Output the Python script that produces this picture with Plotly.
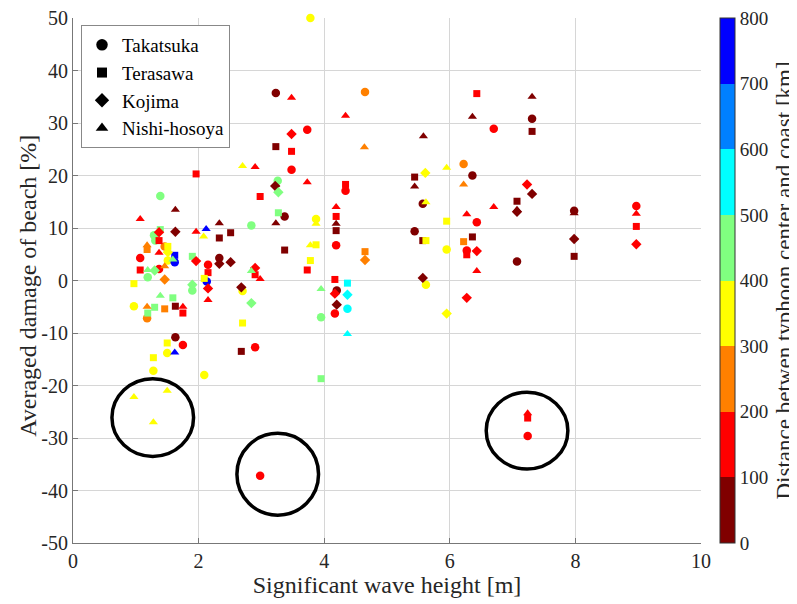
import plotly.graph_objects as go

# ---------------- data ----------------
# Takatsuka (circles)
taka_x = [1.96, 1.39, 1.29, 1.31, 1.46, 1.51, 1.62, 1.07, 1.19, 1.37, 0.97, 1.18, 1.63, 1.75, 1.50, 1.28, 2.09,
          2.98, 7.24, 3.78, 3.23, 4.65, 3.73, 3.48, 3.26, 4.34, 3.37, 2.84, 3.87, 4.19, 2.33, 2.15, 2.13, 1.90,
          2.70, 2.90, 3.95, 4.20, 4.17, 4.37, 5.95, 5.44, 5.57, 5.62, 7.31, 6.70, 6.22, 6.36, 6.43, 6.27, 7.07,
          7.98, 8.97]
taka_y = [27.2, 16.1, 8.6, 7.6, 6.5, 3.8, 3.5, 4.3, 0.6, 2.2, -4.9, -7.2, -10.8, -12.3, -13.8, -17.2, -18.0,
          -37.2, -29.6, 50.0, 35.7, 35.9, 28.7, 21.1, 19.0, 17.1, 12.2, 10.5, 11.7, 6.7, 4.3, 3.0, -0.2, -1.9,
          -2.0, -12.7, -7.0, -1.9, -6.3, -5.4, 5.9, 9.4, 14.6, -0.8, 30.8, 28.9, 22.2, 20.0, 11.1, 5.7, 3.6,
          13.3, 14.2]
taka_d = [150, 450, 450, 450, 250, 350, 750, 150, 450, 150, 350, 250, 50, 150, 350, 350, 350,
          150, 150, 350, 50, 250, 150, 150, 450, 150, 50, 450, 350, 150, 50, 150, 750, 450,
          350, 150, 450, 50, 150, 550, 350, 50, 50, 350, 50, 150, 250, 50, 150, 150, 50,
          50, 150]

# Terasawa (squares)
tera_x = [2.12, 1.96, 1.39, 2.33, 2.51, 1.37, 1.18, 1.51, 1.62, 1.07, 1.90, 2.15, 2.09, 0.97, 1.59, 1.30, 1.46,
          1.63, 1.75, 1.19, 2.70, 1.50, 1.28, 2.68, 3.95, 7.24, 3.23, 3.48, 4.34, 2.98, 3.27, 4.19, 4.19, 3.87,
          3.37, 3.78, 3.73, 4.65, 2.90, 4.17, 4.37, 5.44, 5.95, 5.57, 5.62, 6.43, 7.31, 7.07, 6.36, 6.22, 6.27,
          7.98, 8.97]
tera_y = [27.2, 20.3, 9.7, 8.1, 9.1, 7.6, 5.9, 6.5, 4.8, 2.0, 4.6, 1.5, 0.4, -0.6, -3.3, -5.1, -5.4,
          -4.9, -6.2, -6.2, -8.1, -11.9, -14.7, -13.5, -18.7, -26.2, 25.5, 24.6, 18.3, 16.0, 12.9, 12.2, 9.5, 6.8,
          5.8, 3.8, 2.0, 5.5, 1.1, 0.2, -0.5, 19.7, 11.3, 7.6, 7.6, 35.6, 28.4, 15.1, 8.3, 7.4, 4.9,
          4.6, 10.3]
tera_d = [750, 150, 450, 50, 50, 150, 250, 350, 750, 150, 450, 150, 350, 350, 450, 450, 250,
          50, 150, 450, 350, 350, 350, 50, 450, 150, 50, 150, 150, 150, 450, 150, 50, 350,
          50, 350, 150, 250, 150, 150, 550, 50, 350, 50, 350, 150, 50, 50, 50, 250, 150,
          50, 150]

# Kojima (diamonds)
koji_x = [1.37, 1.63, 1.51, 1.30, 1.46, 1.96, 2.33, 2.51, 2.15, 1.90, 2.68, 2.84, 2.90, 3.48, 3.22, 3.27, 4.65,
          4.17, 4.20, 4.37, 5.61, 5.57, 5.95, 7.23, 7.31, 7.07, 6.43, 6.27, 7.98, 8.97]
koji_y = [9.2, 9.3, 5.4, 1.9, 0.2, 3.7, 3.2, 3.5, -1.5, -0.8, -1.3, -4.3, 2.4, 27.9, 18.0, 16.8, 3.9,
          -2.5, -4.6, -2.7, 20.5, 0.5, -6.3, 18.3, 16.5, 13.1, 5.6, -3.3, 7.9, 6.9]
koji_d = [150, 50, 350, 450, 250, 150, 50, 50, 150, 450, 50, 450, 150, 150, 50, 450, 250,
          150, 50, 550, 350, 50, 350, 150, 50, 50, 150, 150, 50, 150]

# Nishi-hosoya (triangles)
nishi_x = [1.19, 2.70, 1.63, 1.07, 1.96, 2.12, 2.08, 2.33, 1.18, 1.37, 1.59, 1.46, 1.19, 2.15, 1.39, 1.18, 1.75,
           1.62, 0.97, 1.50, 1.28, 7.24, 3.48, 4.34, 4.64, 2.90, 3.73, 4.19, 3.23, 4.19, 3.87, 3.78, 2.84, 2.98,
           3.95, 4.37, 5.58, 5.95, 5.44, 5.62, 7.31, 6.36, 6.22, 6.70, 6.27, 7.07, 6.43, 7.98, 8.97]
nishi_y = [27.8, 21.8, 13.5, 11.7, 9.3, 9.8, 8.4, 10.9, 6.7, 5.3, 4.0, 2.7, 2.0, -3.7, -2.9, -5.0, -5.0,
           -13.7, -22.2, -21.0, -27.0, -25.3, 34.8, 31.4, 25.4, 21.6, 18.7, 14.0, 10.9, 10.8, 10.8, 6.7, 1.8, 0.3,
           -1.6, -10.2, 27.5, 21.5, 17.9, 14.9, 35.0, 31.2, 18.3, 14.0, 12.6, 13.5, 1.8, 12.8, 12.7]
nishi_d = [450, 350, 50, 150, 150, 750, 350, 50, 250, 150, 450, 250, 450, 150, 450, 250, 150,
           750, 350, 350, 350, 150, 150, 150, 250, 150, 150, 150, 50, 50, 350, 350, 450, 150,
           450, 550, 50, 350, 50, 350, 50, 50, 250, 150, 150, 50, 150, 50, 150]

series_names = ["Takatsuka", "Terasawa", "Kojima", "Nishi-hosoya"]

x_tick_vals = [0, 2, 4, 6, 8, 10]
x_tick_text = ["0", "2", "4", "6", "8", "10"]
y_tick_vals = [50, 40, 30, 20, 10, 0, -10, -20, -30, -40, -50]
y_tick_text = ["50", "40", "30", "20", "10", "0", "-10", "-20", "-30", "-40", "-50"]
cbar_tick_vals = [0, 100, 200, 300, 400, 500, 600, 700, 800]

# highlighted groups (ellipses): centre x, centre y, half-width, half-height
ell_cx = [1.27, 3.26, 7.23]
ell_cy = [-26.1, -36.9, -28.6]
ell_rx = [0.65, 0.65, 0.65]
ell_ry = [7.4, 7.8, 7.3]

# ---------------- styling ----------------
FONT = "Liberation Serif"
TXT = "#262626"
band_colors = ["#800000", "#FF0000", "#FF8000", "#FFFF00", "#80FF80", "#00FFFF", "#0080FF", "#0000FF"]
colorscale = []
n = len(band_colors)
for i, c in enumerate(band_colors):
    colorscale.append([i / n, c])
    colorscale.append([(i + 1) / n, c])

# page body adds an 8 px margin, so the figure is 8 px smaller than the window
W, H = 789, 596
ML, MT = 65, 10
PW, PH = 628, 525
MR, MB = W - ML - PW, H - MT - PH

fig = go.Figure()

groups = [
    (taka_x, taka_y, taka_d, "circle", 8.5),
    (tera_x, tera_y, tera_d, "square", 7),
    (koji_x, koji_y, koji_d, "diamond", 8),
    (nishi_x, nishi_y, nishi_d, "triangle-up", 8),
]

for k, (xs, ys, ds, sym, sz) in enumerate(groups):
    marker = dict(symbol=sym, size=sz, color=ds, colorscale=colorscale, cmin=0, cmax=800,
                  line=dict(width=0), showscale=(k == 0))
    if k == 0:
        marker["colorbar"] = dict(
            x=(712 - ML) / PW, xanchor="left", xpad=0, y=0.5, yanchor="middle", ypad=0,
            len=1.0, lenmode="fraction",
            thickness=15, outlinewidth=1, outlinecolor="#333",
            tickvals=cbar_tick_vals, ticks="", ticklabeloverflow="allow",
            tickfont=dict(family=FONT, size=19, color=TXT),
        )
    fig.add_trace(go.Scatter(x=xs, y=ys, mode="markers", showlegend=False, marker=marker, cliponaxis=False))

# legend entries (black symbols)
for name, (_, _, _, sym, sz) in zip(series_names, groups):
    fig.add_trace(go.Scatter(x=[None], y=[None], mode="markers", name=name,
                             marker=dict(symbol=sym, size=sz + 3, color="black")))

for cx, cy, rx, ry in zip(ell_cx, ell_cy, ell_rx, ell_ry):
    fig.add_shape(type="circle", xref="x", yref="y", x0=cx - rx, x1=cx + rx, y0=cy - ry, y1=cy + ry,
                  line=dict(color="black", width=3.5))

# y-axis title as rotated annotation
fig.add_annotation(text="Averaged damage of beach [%]", xref="paper", yref="paper",
                   x=(20 - ML) / PW, y=0.49, xanchor="center", yanchor="middle", textangle=-90,
                   showarrow=False, font=dict(family=FONT, size=24, color=TXT))
# colour-bar title
fig.add_annotation(text="Distance betwen typhoon center and coast [km]", xref="paper", yref="paper",
                   x=(776 - ML) / PW, y=0.5, xanchor="center", yanchor="middle", textangle=-90,
                   showarrow=False, font=dict(family=FONT, size=23, color=TXT))

fig.update_layout(
    width=W, height=H,
    margin=dict(l=ML, r=MR, t=MT, b=MB, autoexpand=False),
    paper_bgcolor="white", plot_bgcolor="white",
    font=dict(family=FONT, color=TXT),
    legend=dict(x=(73 - ML) / PW, y=1 - (17 - MT) / PH, xanchor="left", yanchor="top",
                bgcolor="white", bordercolor="#888", borderwidth=1,
                font=dict(family=FONT, size=19, color="black"), tracegroupgap=0, itemwidth=30),
    xaxis=dict(range=[0, 10], tickvals=x_tick_vals, ticktext=x_tick_text,
               showgrid=True, gridcolor="#d6d6d6", gridwidth=1,
               showline=True, linecolor="#777", linewidth=1, ticks="inside", ticklen=5, tickcolor="#777",
               zeroline=False, ticklabeloverflow="allow", tickfont=dict(family=FONT, size=20, color=TXT),
               title=dict(text="Significant wave height [m]", font=dict(family=FONT, size=24, color=TXT),
                          standoff=1)),
    yaxis=dict(range=[-50, 50], tickvals=y_tick_vals, ticktext=y_tick_text,
               showgrid=True, gridcolor="#d6d6d6", gridwidth=1,
               showline=True, linecolor="#777", linewidth=1, ticks="inside", ticklen=5, tickcolor="#777",
               zeroline=False, ticklabeloverflow="allow", tickfont=dict(family=FONT, size=20, color=TXT)),
)

fig.write_html("out.html")
